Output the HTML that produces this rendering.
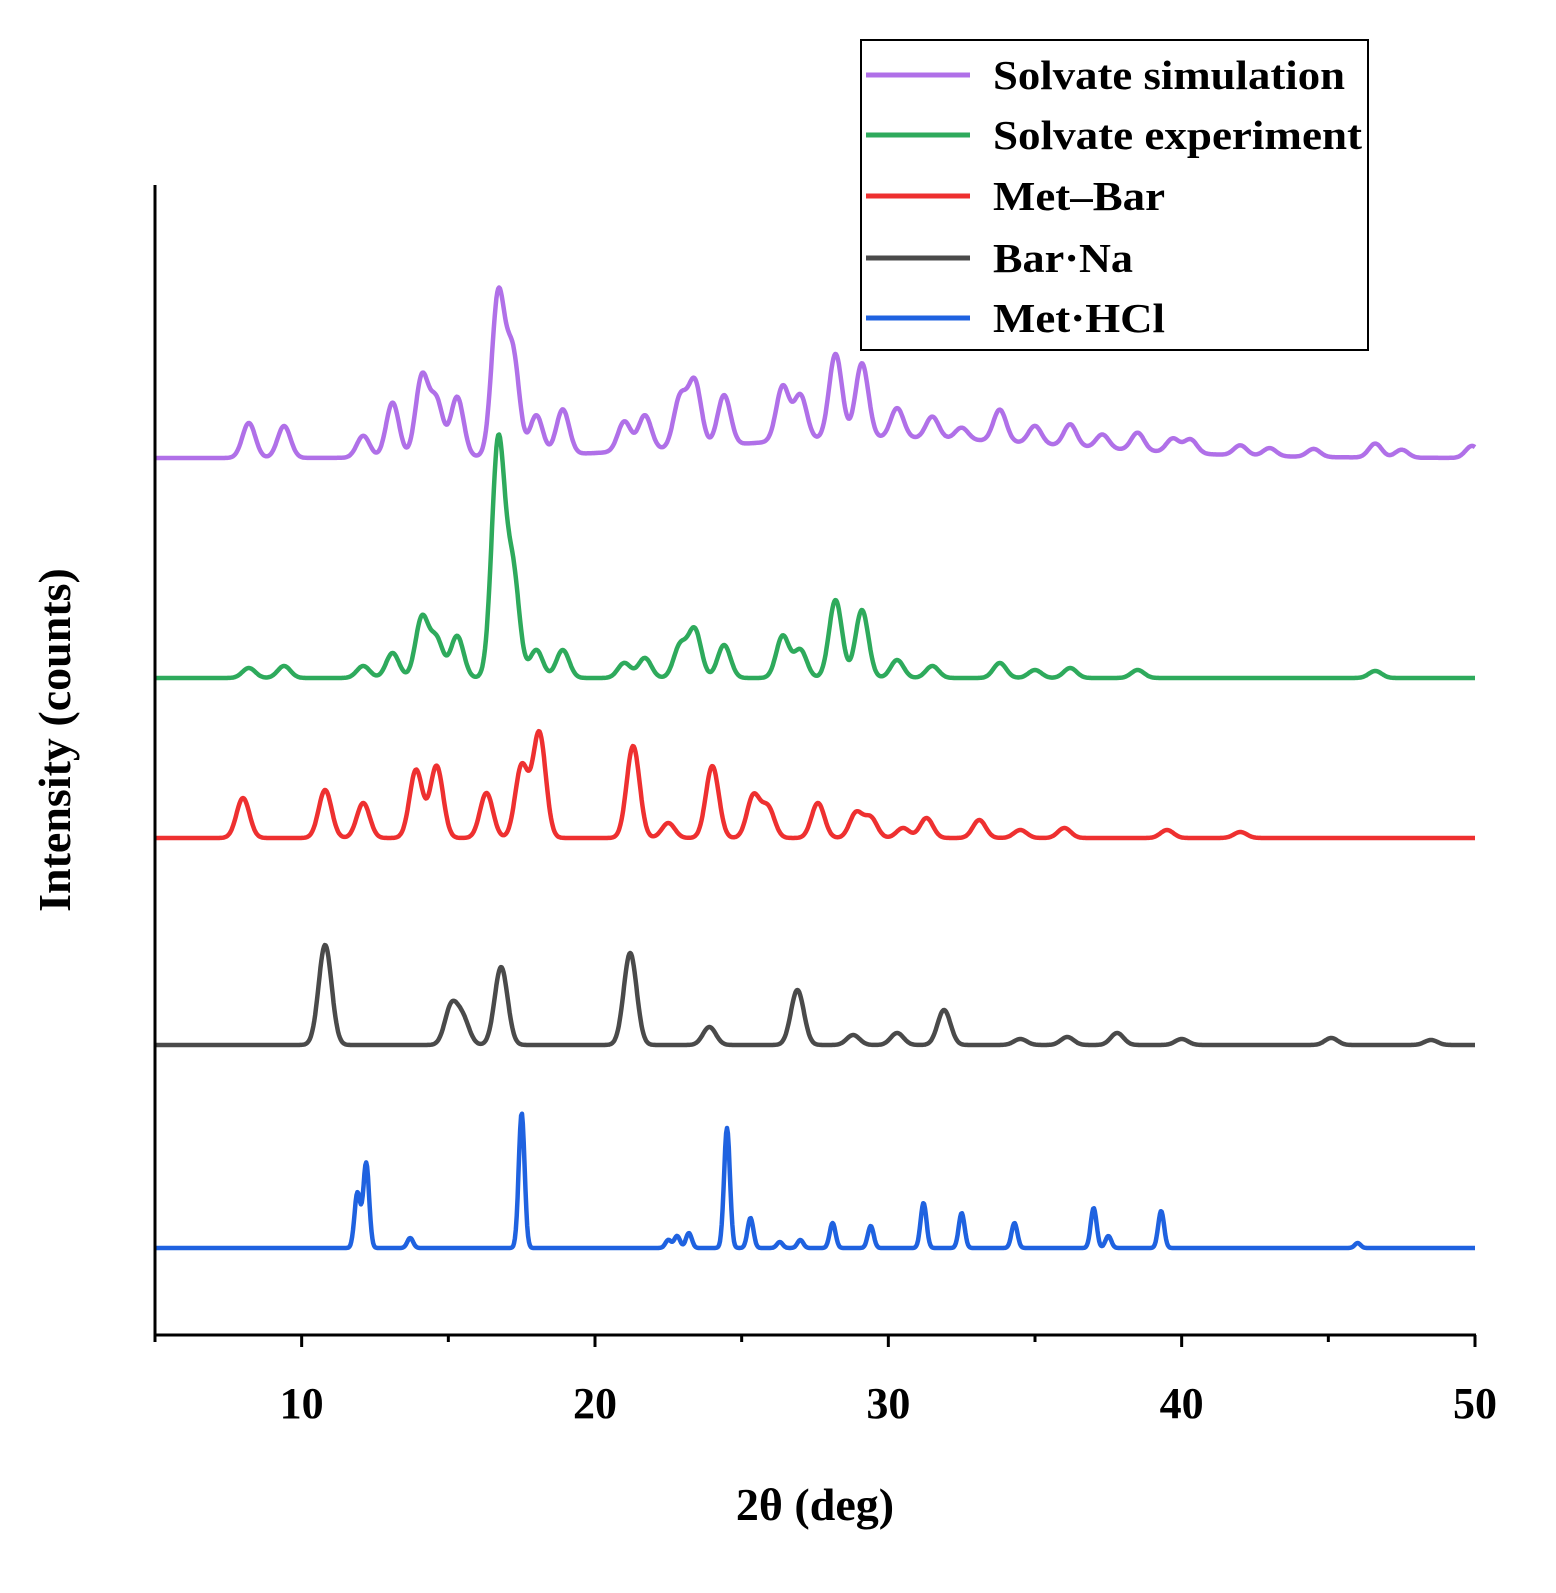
<!DOCTYPE html>
<html><head><meta charset="utf-8"><style>
html,body{margin:0;padding:0;background:#fff;}
svg{display:block;font-family:"Liberation Serif",serif;font-weight:bold;}
</style></head><body>
<svg id="chart" width="1556" height="1593" viewBox="0 0 1556 1593" xmlns="http://www.w3.org/2000/svg">
<rect width="1556" height="1593" fill="#fff"/>
<g id="plot"></g>
<g id="axes"></g>
<g id="legend"></g>
</svg>
<script>
const xTicks = [10, 20, 30, 40, 50];
const seriesNames = ["Solvate simulation","Solvate experiment","Met\u2013Bar","Bar\u00b7Na","Met\u00b7HCl"];
const seriesColors = ["#b070e8","#2eaa5c","#ee3030","#4a4a4a","#1f62e0"];
const seriesOffsets = [877, 657, 497, 290, 87];
const simPos = [8.2,9.4,12.1,13.1,14.1,14.6,15.3,16.7,17.2,18.0,18.9,21.0,21.7,22.9,23.4,24.4,26.4,27.0,28.2,29.1,30.3,31.5,32.5,33.8,35.0,36.2,37.3,38.5,39.7,40.3,42,43,44.5,46.6,47.5,49.9,30];
const simHt  = [35,32,22,55,80,55,60,160,100,40,45,30,35,50,65,50,55,45,85,75,30,22,12,32,18,22,14,18,14,14,10,8,8,14,8,12,20];
const expPos = [8.2,9.4,12.1,13.1,14.1,14.6,15.3,16.7,17.2,18.0,18.9,21.0,21.7,22.9,23.4,24.4,26.4,27.0,28.2,29.1,30.3,31.5,33.8,35,36.2,38.5,46.6];
const expHt  = [10,12,12,25,60,38,42,235,105,28,28,15,20,32,48,33,42,28,78,68,18,12,15,8,10,8,7];
const mbPos = [8.0,10.8,12.1,13.9,14.6,16.3,17.5,18.1,21.3,22.5,24.0,25.4,25.9,27.6,28.9,29.4,30.5,31.3,33.1,34.5,36,39.5,42];
const mbHt  = [40,48,35,68,72,45,72,105,92,15,72,42,30,35,25,20,10,20,18,8,10,8,6];
const bnPos = [10.8,15.1,15.5,16.8,21.2,23.9,26.9,28.8,30.3,31.9,34.5,36.1,37.8,40.0,45.1,48.5];
const bnHt  = [100,38,25,78,92,18,55,10,12,35,6,8,12,6,7,5];
const mhPos = [11.9,12.2,13.7,17.5,22.5,22.8,23.2,24.5,25.3,26.3,27.0,28.1,29.4,31.2,32.5,34.3,37.0,37.5,39.3,46];
const mhHt  = [55,85,10,135,8,12,15,120,30,6,8,25,22,45,35,25,40,12,37,5];
const peakPos = [simPos, expPos, mbPos, bnPos, mhPos];
const peakHt = [simHt, expHt, mbHt, bnHt, mhHt];

const X0=155, X1=1475, Y0=1335;
function xs(v){return X0+(v-5)/45*(X1-X0);}
function ys(v){return Y0-v;}
const NS="http://www.w3.org/2000/svg";
function mk(tag,attrs,parent){const e=document.createElementNS(NS,tag);for(const k in attrs)e.setAttribute(k,attrs[k]);parent.appendChild(e);return e;}

const plot=document.getElementById('plot');
for(let s=0;s<5;s++){
  const pos=peakPos[s], ht=peakHt[s];
  const sig = s===4?0.1:0.22;
  let d="";
  for(let t=5;t<=50.0001;t+=0.03){
    let v=seriesOffsets[s];
    for(let i=0;i<pos.length;i++){
      const w=(s===0&&pos[i]===30)?6:sig;
      const z=(t-pos[i])/w; v+=ht[i]*Math.exp(-0.5*z*z);
    }
    d+=(d?"L":"M")+xs(t).toFixed(1)+","+ys(v).toFixed(1);
  }
  const p=mk('path',{d:d,fill:'none',stroke:seriesColors[s],'stroke-width':4.5,'stroke-linejoin':'round'},plot);
  
  
}

const axes=document.getElementById('axes');
const ya=mk('line',{x1:X0,y1:185,x2:X0,y2:Y0,stroke:'#000','stroke-width':3},axes);


const xa=mk('line',{x1:X0-1,y1:Y0,x2:X1+1,y2:Y0,stroke:'#000','stroke-width':3},axes);


for(let v=5;v<=50;v+=5){
  const tk=mk('line',{x1:xs(v),y1:Y0,x2:xs(v),y2:Y0+(v%10===0?12:7),stroke:'#000','stroke-width':3},axes);
  
  
}
xTicks.forEach(v=>{
  const t=mk('text',{x:xs(v),y:1418,'text-anchor':'middle','font-size':44},axes);
  t.textContent=v;
  
  
});
const xt=mk('text',{x:815,y:1520,'text-anchor':'middle','font-size':46},axes);
xt.textContent="2\u03b8 (deg)";


const yt=mk('text',{x:0,y:0,'text-anchor':'middle','font-size':46,transform:'translate(70,740) rotate(-90)'},axes);
yt.textContent="Intensity (counts)";



const lg=document.getElementById('legend');
const box=mk('rect',{x:861,y:40,width:507,height:310,fill:'#fff',stroke:'#000','stroke-width':2},lg);


const ly=[75,135,196,258,318];
const lw=[352,369,172,140,172];
for(let i=0;i<5;i++){
  const l=mk('line',{x1:866,y1:ly[i],x2:970,y2:ly[i],stroke:seriesColors[i],'stroke-width':5},lg);
  
  
  const t=mk('text',{x:993,y:ly[i]+14,'font-size':41,textLength:lw[i],lengthAdjust:'spacingAndGlyphs'},lg);
  t.textContent=seriesNames[i];
  
  
}
</script>
</body></html>
